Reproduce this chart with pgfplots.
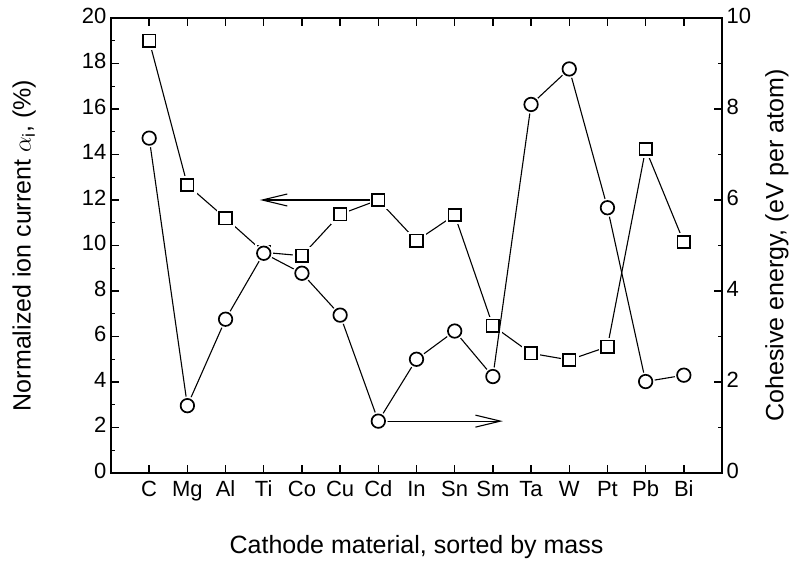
\documentclass[border=0pt]{standalone}
\usepackage{fontspec}
\setmainfont{Liberation Sans}
\usepackage{pgfplots}
\pgfplotsset{compat=1.18}
\usetikzlibrary{arrows.meta}

\pgfplotstableread{
x sq ci
1 19.0 7.36
2 12.66 1.48
3 11.2 3.38
4 9.70 4.83
5 9.55 4.39
6 11.37 3.47
7 12.0 1.14
8 10.21 2.50
9 11.34 3.12
10 6.47 2.12
11 5.26 8.10
12 4.97 8.88
13 5.55 5.83
14 14.24 2.01
15 10.15 2.15
}\datatab

\begin{document}
\begin{tikzpicture}
\pgfplotsset{
  base/.style={
    width=611pt, height=455pt, scale only axis,
    xmin=0, xmax=16,
    /pgf/number format/assume math mode=true,
    tick label style={font=\fontsize{22}{26}\selectfont},
    typeset ticklabels with strut,
    axis line style={line width=1.6pt},
    major tick length=8pt, minor tick length=4.5pt,
    every tick/.style={black, line width=1.4pt},
    tick align=inside,
  }
}
\begin{axis}[base,
  ymin=0, ymax=20,
  ytick={0,2,...,20}, minor ytick={1,3,...,19},
  ytick pos=left, xtick pos=both,
  xtick={1,...,15},
  xticklabels={C,Mg,Al,Ti,Co,Cu,Cd,In,Sn,Sm,Ta,W,Pt,Pb,Bi},
  xticklabel style={yshift=-2pt},
  yticklabel style={xshift=-1pt},
  xlabel={Cathode material, sorted by mass},
  ylabel={Normalized ion current $\alpha_{\mathrm{i}}$, (\%)},
  every axis x label/.style={at={(axis description cs:0.5,-0.163)}, anchor=center, font=\fontsize{25}{30}\selectfont},
  every axis y label/.style={at={(axis description cs:-0.142,0.5)}, rotate=90, anchor=center, font=\fontsize{25}{30}\selectfont},
]
\coordinate (bl) at (rel axis cs:0,0);
\coordinate (tr) at (rel axis cs:1,1);
\addplot[black, line width=1.1pt, no marks] table[x=x,y=sq] {\datatab};
\addplot[only marks, mark=square*, mark size=8.5pt, draw=white, fill=white] table[x=x,y=sq] {\datatab};
\addplot[only marks, mark=square, mark size=6.25pt, mark options={line width=1.7pt, draw=black}] table[x=x,y=sq] {\datatab};
\draw[line width=1.1pt, -{Straight Barb[length=25pt,width=12pt,line width=1.1pt]}] (axis cs:6.84,12) -- (axis cs:3.9,12);
\end{axis}
\begin{axis}[base,
  ymin=0, ymax=10,
  ytick={0,2,...,10}, minor ytick={1,3,...,9},
  hide x axis, axis y line*=right,
  yticklabel style={xshift=1pt},
  ylabel={Cohesive energy, (eV per atom)},
  every axis y label/.style={at={(axis description cs:1.090,0.5)}, rotate=90, anchor=center, font=\fontsize{25}{30}\selectfont},
]
\addplot[black, line width=1.1pt, no marks] table[x=x,y=ci] {\datatab};
\addplot[only marks, mark=*, mark size=9pt, draw=white, fill=white] table[x=x,y=ci] {\datatab};
\addplot[only marks, mark=o, mark size=6.75pt, mark options={line width=1.7pt, draw=black}] table[x=x,y=ci] {\datatab};
\draw[line width=1.1pt, -{Straight Barb[length=25pt,width=12pt,line width=1.1pt]}] (axis cs:7.18,1.14) -- (axis cs:10.26,1.14);
\end{axis}
\path ([shift={(-111pt,-95pt)}]bl) rectangle ([shift={(77pt,18pt)}]tr);
\end{tikzpicture}
\end{document}
